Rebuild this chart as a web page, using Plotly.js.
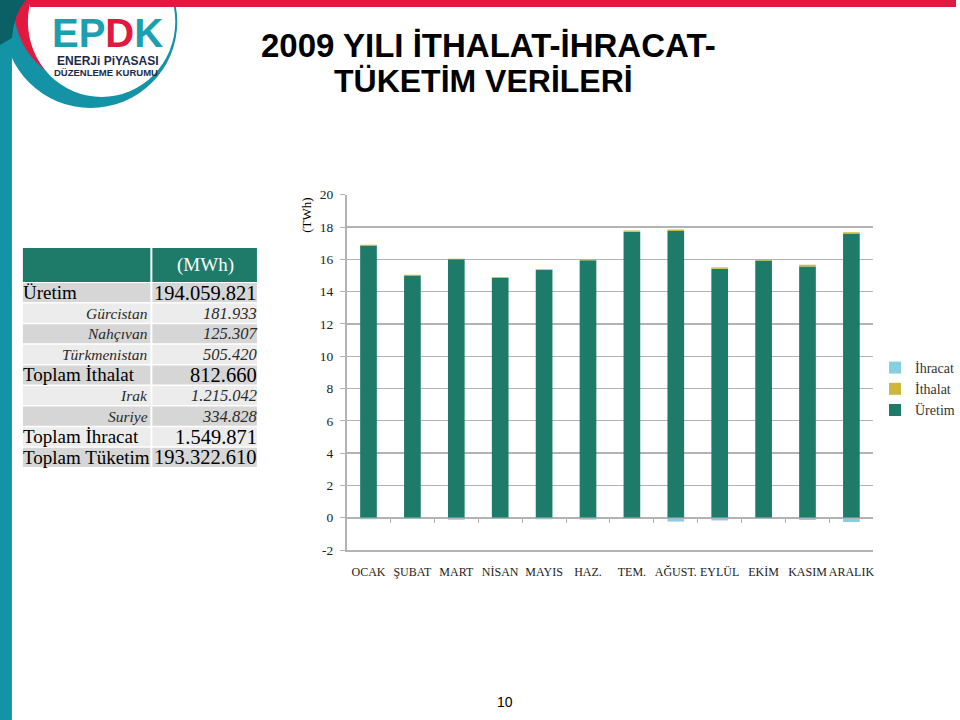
<!DOCTYPE html>
<html>
<head>
<meta charset="utf-8">
<script src="https://cdn.plot.ly/plotly-3.0.1.min.js"></script>
<style>html,body{margin:0;padding:0;background:#fff;}#chart{width:960px;height:720px;}</style>
</head>
<body>
<div id="chart"></div>
<script>
// ---------- data ----------
const months = ['OCAK','ŞUBAT','MART','NİSAN','MAYIS','HAZ.','TEM.','AĞUST.','EYLÜL','EKİM','KASIM','ARALIK'];
const uretim  = [16.85, 14.99, 16.00, 14.85, 15.35, 15.94, 17.70, 17.75, 15.42, 15.93, 15.56, 17.57];
const ithalat = [0.05, 0.06, 0.04, 0.05, 0.03, 0.04, 0.09, 0.10, 0.08, 0.05, 0.11, 0.11];
const ihracat = [-0.10, -0.07, -0.12, -0.07, -0.10, -0.12, -0.08, -0.24, -0.17, -0.07, -0.14, -0.27];
const seriesNames = ['Üretim', 'İthalat', 'İhracat'];
const yTicks = [-2, 0, 2, 4, 6, 8, 10, 12, 14, 16, 18, 20];
const yTickText = ['-2', '0', '2', '4', '6', '8', '10', '12', '14', '16', '18', '20'];

const tableLabels = ['Üretim','Gürcistan','Nahçıvan','Türkmenistan','Toplam İthalat','Irak','Suriye','Toplam İhracat','Toplam Tüketim'];
const tableValues = ['194.059.821','181.933','125.307','505.420','812.660','1.215.042','334.828','1.549.871','193.322.610'];
const tableKinds  = ['main','sub','sub','sub','main','sub','sub','main','main'];
const tableHeader = ['', '(MWh)'];

// ---------- helpers (pixel -> paper) ----------
const W = 960, H = 720;
const px = x => x / W;
const py = y => 1 - y / H;

const GREEN = '#1e7b69', YELLOW = '#cdb73e', BLUE = '#86cfe3';
const GRID = '#b3b3b3';
const SERIF = 'Liberation Serif, DejaVu Serif, serif';
const SANS = 'Liberation Sans, Arial, sans-serif';

const yBottom = py(550), yTop = py(194.7);
const zeroPos = yBottom + (0 - yTicks[0]) / (yTicks[yTicks.length-1] - yTicks[0]) * (yTop - yBottom);

const traces = [
  {type:'bar', name:seriesNames[0], x:months, y:uretim, marker:{color:GREEN}, xaxis:'x', yaxis:'y'},
  {type:'bar', name:seriesNames[1], x:months, y:ithalat, marker:{color:YELLOW}, xaxis:'x', yaxis:'y'},
  {type:'bar', name:seriesNames[2], x:months, y:ihracat, marker:{color:BLUE}, xaxis:'x', yaxis:'y'},
  {type:'scatter', mode:'none', x:months, y:months.map(()=>0), xaxis:'x2', yaxis:'y', showlegend:false, hoverinfo:'skip'}
];

const shapes = [
  // left teal bar
  {type:'rect', xref:'paper', yref:'paper', x0:px(0), x1:px(12), y0:py(720), y1:py(0), fillcolor:'#1593a6', line:{width:0}},
  // logo rings
  {type:'circle', xref:'paper', yref:'paper', x0:px(4), x1:px(178), y0:py(108), y1:py(-64), fillcolor:'#1593a6', line:{width:0}},
  {type:'circle', xref:'paper', yref:'paper', x0:px(14), x1:px(170), y0:py(86), y1:py(-72), fillcolor:'#e2183f', line:{width:0}},
  {type:'circle', xref:'paper', yref:'paper', x0:px(28), x1:px(176), y0:py(97), y1:py(-54), fillcolor:'#ffffff', line:{width:0}},
  // red top bar
  {type:'rect', xref:'paper', yref:'paper', x0:px(30), x1:px(960), y0:py(7), y1:py(0), fillcolor:'#e2183f', line:{width:0}},
  // dark corner
  {type:'path', xref:'paper', yref:'paper',
   path:`M ${px(0)} ${py(0)} L ${px(26)} ${py(0)} Q ${px(14)} ${py(14)} ${px(12)} ${py(38)} L ${px(0)} ${py(45)} Z`,
   fillcolor:'#0b6066', line:{width:0}}
];

const annotations = [
  {xref:'paper', yref:'paper', x:px(491), y:py(45), text:'<b>2009 YILI İTHALAT-İHRACAT-</b>', showarrow:false,
   font:{family:SANS, size:33, color:'#000'}, xanchor:'center', yanchor:'middle'},
  {xref:'paper', yref:'paper', x:px(486), y:py(81), text:'<b>TÜKETİM VERİLERİ</b>', showarrow:false,
   font:{family:SANS, size:32, color:'#000'}, xanchor:'center', yanchor:'middle'},
  {xref:'paper', yref:'paper', x:px(307), y:py(215), text:'(TWh)', textangle:-90, showarrow:false,
   font:{family:SERIF, size:13, color:'#000'}, xanchor:'center', yanchor:'middle'},
  {xref:'paper', yref:'paper', x:px(507), y:py(702), text:'10', showarrow:false,
   font:{family:SANS, size:14, color:'#000'}, xanchor:'center', yanchor:'middle'},
  // logo
  {xref:'paper', yref:'paper', x:px(108), y:py(33), showarrow:false, xanchor:'center', yanchor:'middle',
   text:'<b><span style="color:#1aa0b0">EP</span><span style="color:#e2183f">D</span><span style="color:#1aa0b0">K</span></b>',
   font:{family:SANS, size:40, color:'#1aa0b0'}},
  {xref:'paper', yref:'paper', x:px(108), y:py(61), showarrow:false, xanchor:'center', yanchor:'middle',
   text:'<b>ENERJi PiYASASI</b>', font:{family:SANS, size:12, color:'#1c2a4a'}},
  {xref:'paper', yref:'paper', x:px(106), y:py(73), showarrow:false, xanchor:'center', yanchor:'middle',
   text:'<b>DÜZENLEME KURUMU</b>', font:{family:SANS, size:9.5, color:'#1c2a4a'}}
];

// ---------- table built from the arrays ----------
const tbl = {x0:23, xSplit:152, x1:258, headTop:248, headBottom:282, rowTop:283, rowH:20.6};
// header cells
shapes.push({type:'rect', xref:'paper', yref:'paper', x0:px(tbl.x0), x1:px(tbl.xSplit-1), y0:py(tbl.headBottom), y1:py(tbl.headTop), fillcolor:GREEN, line:{width:0}});
shapes.push({type:'rect', xref:'paper', yref:'paper', x0:px(tbl.xSplit+1), x1:px(tbl.x1), y0:py(tbl.headBottom), y1:py(tbl.headTop), fillcolor:GREEN, line:{width:0}});
annotations.push({xref:'paper', yref:'paper', x:px((tbl.xSplit+tbl.x1)/2 + 1), y:py((tbl.headTop+tbl.headBottom)/2), text:tableHeader[1],
  showarrow:false, xanchor:'center', yanchor:'middle', font:{family:SERIF, size:19, color:'#ffffff'}});
tableLabels.forEach((lab, i) => {
  const top = tbl.rowTop + i*tbl.rowH, bot = top + tbl.rowH - 1.5, mid = (top + bot)/2;
  const fill = i % 2 === 0 ? '#d6d6d6' : '#ececec';
  shapes.push({type:'rect', xref:'paper', yref:'paper', x0:px(tbl.x0), x1:px(tbl.xSplit-1), y0:py(bot), y1:py(top), fillcolor:fill, line:{width:0}});
  shapes.push({type:'rect', xref:'paper', yref:'paper', x0:px(tbl.xSplit+1), x1:px(tbl.x1), y0:py(bot), y1:py(top), fillcolor:fill, line:{width:0}});
  const sub = tableKinds[i] === 'sub';
  annotations.push({xref:'paper', yref:'paper', showarrow:false, yanchor:'middle',
    x: sub ? px(tbl.xSplit-1) : px(tbl.x0-2), xanchor: sub ? 'right' : 'left', y:py(mid),
    text: sub ? '<i>'+lab+'</i>' : lab,
    font:{family:SERIF, size: sub ? 15.5 : 19, color: sub ? '#2a2a2a' : '#000'}});
  annotations.push({xref:'paper', yref:'paper', showarrow:false, yanchor:'middle',
    x: px(tbl.x1 + 2), xanchor:'right', y:py(mid),
    text: sub ? '<i>'+tableValues[i]+'</i>' : tableValues[i],
    font:{family:SERIF, size: sub ? 16.5 : 20.5, color: sub ? '#2a2a2a' : '#000'}});
});

const layout = {
  width:W, height:H,
  margin:{l:0, r:0, t:0, b:0},
  paper_bgcolor:'#ffffff', plot_bgcolor:'#ffffff',
  barmode:'relative', bargap:0.62,
  showlegend:true,
  legend:{x:px(879), y:py(352), xanchor:'left', yanchor:'top', traceorder:'reversed',
          font:{family:SERIF, size:14, color:'#333'}, bgcolor:'rgba(0,0,0,0)', itemwidth:30},
  xaxis:{domain:[px(348), px(877)], anchor:'y', type:'category', range:[-0.5, months.length-0.5],
         showline:true, linecolor:GRID, linewidth:1.5, ticks:'', showgrid:false, ticklabelstandoff:10, tickangle:0,
         tickfont:{family:SERIF, size:12, color:'#222'}},
  xaxis2:{overlaying:'x', anchor:'free', position:zeroPos, type:'category', range:[-0.5, months.length-0.5],
          showline:true, linecolor:GRID, linewidth:1.5, ticks:'outside', ticklen:4, tickcolor:GRID,
          tickson:'boundaries', showticklabels:false, showgrid:false},
  yaxis:{domain:[yBottom, yTop], anchor:'x', range:[yTicks[0], yTicks[yTicks.length-1]], tickvals:yTicks, ticktext:yTickText,
         showgrid:true, gridcolor:GRID, gridwidth:1.3, zeroline:false,
         showline:true, linecolor:GRID, linewidth:1.5, ticks:'outside', ticklen:5, tickcolor:GRID,
         ticklabelstandoff:4, tickfont:{family:SERIF, size:13.5, color:'#222'}},
  shapes:shapes,
  annotations:annotations
};

Plotly.newPlot('chart', traces, layout, {staticPlot:true, displayModeBar:false});
</script>
</body>
</html>
